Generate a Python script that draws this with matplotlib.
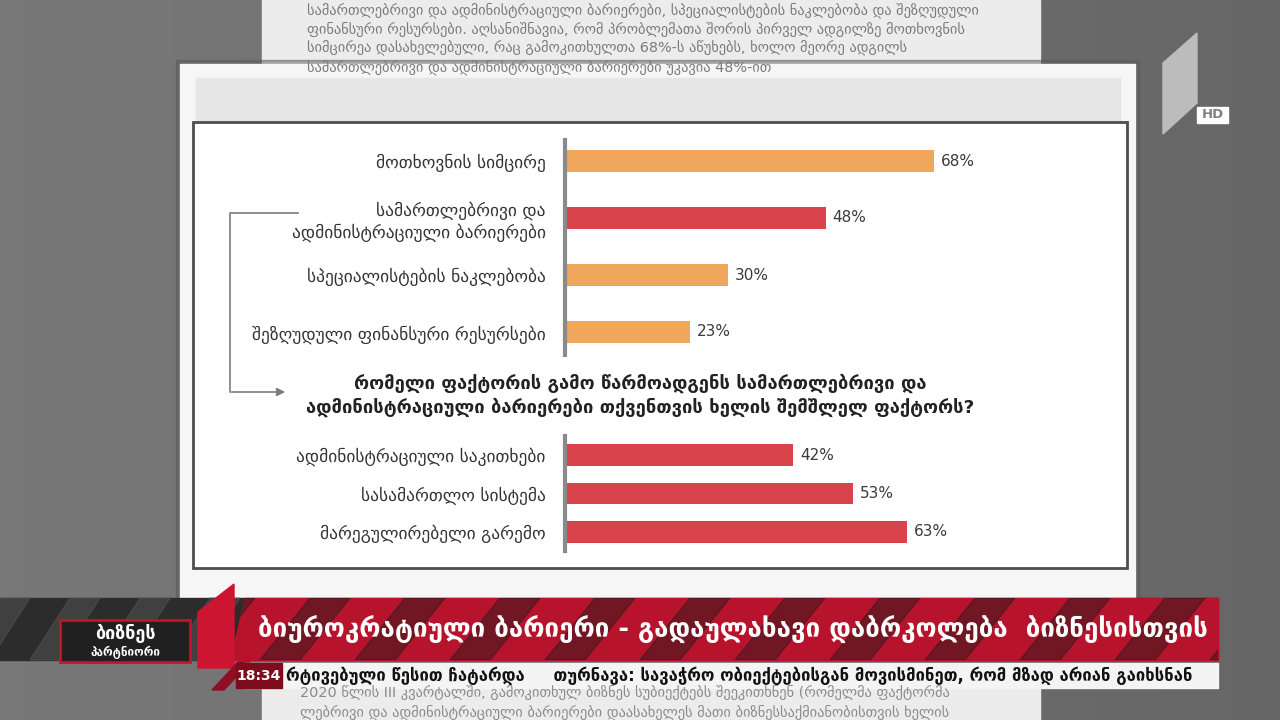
import matplotlib.pyplot as plt
from matplotlib.patches import Rectangle, Polygon
import numpy as np

plt.rcParams['font.family'] = ['DejaVu Sans']

# --- data ---
top_labels = ["მოთხოვნის სიმცირე",
              "სამართლებრივი და\nადმინისტრაციული ბარიერები",
              "სპეციალისტების ნაკლებობა",
              "შეზღუდული ფინანსური რესურსები"]
top_values = [68, 48, 30, 23]
top_kind = ["o", "r", "o", "o"]   # o = orange, r = red

question = ("რომელი ფაქტორის გამო წარმოადგენს სამართლებრივი და\n"
            "ადმინისტრაციული ბარიერები თქვენთვის ხელის შემშლელ ფაქტორს?")
low_labels = ["ადმინისტრაციული საკითხები", "სასამართლო სისტემა", "მარეგულირებელი გარემო"]
low_values = [42, 53, 63]

headline = "ბიუროკრატიული ბარიერი - გადაულახავი დაბრკოლება  ბიზნესისთვის"
ticker = "რტივებული წესით ჩატარდა     თურნავა: სავაჭრო ობიექტებისგან მოვისმინეთ, რომ მზად არიან გაიხსნან"
clock = "18:34"
article_top = ["სამართლებრივი და ადმინისტრაციული ბარიერები, სპეციალისტების ნაკლებობა და შეზღუდული",
               "ფინანსური რესურსები. აღსანიშნავია, რომ პრობლემათა შორის პირველ ადგილზე მოთხოვნის",
               "სიმცირეა დასახელებული, რაც გამოკითხულთა 68%-ს აწუხებს, ხოლო მეორე ადგილს",
               "სამართლებრივი და ადმინისტრაციული ბარიერები უკავია 48%-ით"]
article_bot = ["2020 წლის III კვარტალში, გამოკითხულ ბიზნეს სუბიექტებს შეეკითხნენ (რომელმა ფაქტორმა",
               "ლებრივი და ადმინისტრაციული ბარიერები დაასახელეს მათი ბიზნესსაქმიანობისთვის ხელის"]

ORANGE = "#F0A65B"
RED = "#D9434C"

W, H = 1280, 720
fig = plt.figure(figsize=(12.8, 7.2), dpi=100)

# background layer in pixel coordinates
bg = fig.add_axes([0, 0, 1, 1])
bg.set_xlim(0, W)
bg.set_ylim(H, 0)
bg.axis('off')
grad = np.linspace(0.47, 0.40, 256).reshape(1, -1)
bg.imshow(grad, extent=[0, W, H, 0], cmap='gray', vmin=0, vmax=1, aspect='auto')

# article paper behind
bg.add_patch(Rectangle((262, 0), 778, 80, color='#ececec'))
for i, line in enumerate(article_top):
    bg.text(307, 10 + i * 19, line, fontsize=10.4, color='#7a7a7a', va='center', clip_on=True)
bg.add_patch(Rectangle((262, 686), 778, 34, color='#ececec'))
for i, line in enumerate(article_bot):
    bg.text(300, 693 + i * 19, line, fontsize=10.4, color='#8a8a8a', va='center', clip_on=True)

# the chart card
bg.add_patch(Rectangle((176, 60), 963, 545, color='#5a5a5a', alpha=0.5))
bg.add_patch(Rectangle((180, 64), 955, 540, color='#f6f6f6'))
bg.add_patch(Rectangle((196, 78), 924, 46, color='#e6e6e6'))
bg.add_patch(Rectangle((193, 122), 934, 446, fc='white', ec='#4d4d4d', lw=2))

# bracket arrow
bg.plot([298, 230, 230], [213, 213, 392], color='#7d7d7d', lw=1.2)
bg.annotate('', xy=(288, 392), xytext=(229, 392),
            arrowprops=dict(arrowstyle='-|>', color='#7d7d7d', lw=1.2, mutation_scale=12))
bg.text(640, 395, question, ha='center', va='center', fontsize=13.2,
        fontweight='bold', color='#222222', linespacing=1.3)


def px_axes(left, top, right, bottom):
    return fig.add_axes([left / W, 1 - bottom / H, (right - left) / W, (bottom - top) / H])


def style(ax, lo, hi):
    ax.set_xlim(0, 100)
    for s in ['top', 'right', 'bottom']:
        ax.spines[s].set_visible(False)
    ax.spines['left'].set_color('#8a8a8a')
    ax.spines['left'].set_linewidth(3)
    ax.spines['left'].set_bounds(lo, hi)
    ax.set_xticks([])
    ax.tick_params(axis='y', length=0, pad=14, labelsize=12.5, labelcolor='#333333')
    ax.patch.set_alpha(0)


ax1 = px_axes(565, 132.5, 1108, 360.5)
y1 = np.arange(len(top_values))
ax1.barh(y1, top_values, height=0.39,
         color=[ORANGE if k == "o" else RED for k in top_kind])
ax1.set_ylim(len(top_values) - 0.5, -0.5)
ax1.set_yticks(y1, top_labels)
style(ax1, -0.37, 3.4)
for y, v in zip(y1, top_values):
    ax1.text(v + 1.3, y, f"{v}%", va='center', fontsize=11, color='#3a3a3a')

ax2 = px_axes(565, 435.75, 1108, 551.25)
y2 = np.arange(len(low_values))
ax2.barh(y2, low_values, height=0.57, color=RED)
ax2.set_ylim(len(low_values) - 0.5, -0.5)
ax2.set_yticks(y2, low_labels)
style(ax2, -0.5, 2.5)
for y, v in zip(y2, low_values):
    ax2.text(v + 1.3, y, f"{v}%", va='center', fontsize=11, color='#3a3a3a')

# --- lower banner ---
bg.add_patch(Rectangle((0, 598), 1218, 62, color='#2c2c2c'))
red_band = Polygon([(245, 598), (1218, 598), (1218, 660), (230, 660)], color='#b8132c')
bg.add_patch(red_band)
for x0 in range(120, 1300, 95):
    stripe = Polygon([(x0, 598), (x0 + 40, 598), (x0 - 10, 660), (x0 - 50, 660)],
                     color='#1c1c1c', alpha=0.45)
    bg.add_patch(stripe)
    stripe.set_clip_path(red_band)
for x0 in range(0, 240, 70):
    bg.add_patch(Polygon([(x0, 598), (x0 + 30, 598), (x0 - 10, 660), (x0 - 40, 660)],
                         color='#555555', alpha=0.5))
bg.text(258, 630, headline, fontsize=18.6, fontweight='bold', color='white', va='center')

# programme logo
bg.add_patch(Rectangle((60, 620), 130, 42, fc='#202020', ec='#c8102e', lw=2))
bg.text(125, 633, "ბიზნეს", ha='center', va='center', fontsize=13, fontweight='bold', color='white')
bg.text(125, 652, "პარტნიორი", ha='center', va='center', fontsize=8.5, fontweight='bold', color='white')
bg.add_patch(Polygon([(198, 612), (234, 584), (234, 668), (198, 668)], color='#cc1530'))
bg.add_patch(Polygon([(212, 690), (238, 662), (250, 662), (224, 690)], color='#8e0f22'))

# ticker
bg.add_patch(Rectangle((244, 663), 974, 25, color='#f4f4f4'))
bg.add_patch(Rectangle((236, 663), 46, 25, color='#7d0c1c'))
bg.text(259, 676, clock, ha='center', va='center', fontsize=10, fontweight='bold', color='white')
tk = bg.text(286, 676, ticker, va='center', fontsize=12, fontweight='bold', color='#111111')
tk.set_clip_path(Rectangle((282, 663), 936, 25, transform=bg.transData))

# channel logo
bg.add_patch(Polygon([(1163, 63), (1197, 33), (1197, 103), (1163, 134)], color='#bcbcbc'))
bg.add_patch(Rectangle((1197, 107), 31, 16, color='white'))
bg.text(1212.5, 115, "HD", ha='center', va='center', fontsize=9.5, fontweight='bold', color='#808080')

fig.savefig('out.png', dpi=100)
